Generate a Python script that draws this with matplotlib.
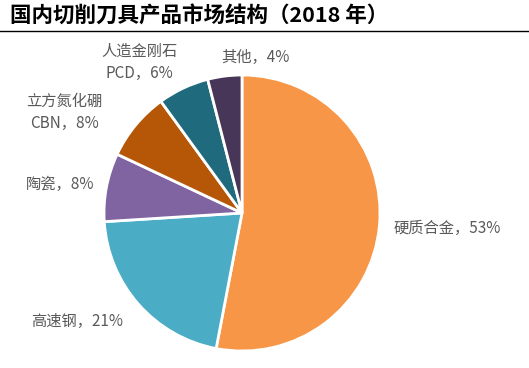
import numpy as np
import matplotlib.pyplot as plt

plt.rcParams['font.family'] = ['Noto Sans CJK SC', 'DejaVu Sans']

# Данные
labels = ['硬质合金，53%', '高速钢，21%', '陶瓷，8%', '立方氮化硼\nCBN，8%', '人造金刚石\nPCD，6%', '其他，4%']
values = [53, 21, 8, 8, 6, 4]
colors = ['#F79646', '#4BACC6', '#8064A2', '#B65708', '#1F6A7C', '#483659']

# расстояние подписи (в радиусах) и сдвиг угла (градусы)
label_dist = [1.49, 1.43, 1.33, 1.48, 1.32, 1.13]
label_shift = [1, -8, 2, 10, 9, -12]

fig = plt.figure(figsize=(5.29, 3.68), dpi=100)
W, H = 529, 368
cx, cy, r = 242, 213, 138
ax = fig.add_axes([(cx - r) / W, (H - cy - r) / H, 2 * r / W, 2 * r / H])

wedges, _ = ax.pie(values, colors=colors, startangle=90, counterclock=False,
                   wedgeprops=dict(edgecolor='white', linewidth=2))
ax.set_xlim(-1, 1)
ax.set_ylim(-1, 1)

for w, lab, d, s in zip(wedges, labels, label_dist, label_shift):
    a = np.deg2rad((w.theta1 + w.theta2) / 2 + s)
    ax.text(d * np.cos(a), d * np.sin(a), lab, ha='center', va='center',
            fontsize=11, color='#595959', linespacing=1.4)

fig.text(10 / W, 1 - 16 / H, '国内切削刀具产品市场结构（2018 年）', fontsize=15.5,
         fontweight='bold', ha='left', va='center', color='black')
fig.add_artist(plt.Line2D([0, 1], [1 - 31 / H, 1 - 31 / H], color='black', linewidth=1))

fig.savefig('out.png', dpi=100)
